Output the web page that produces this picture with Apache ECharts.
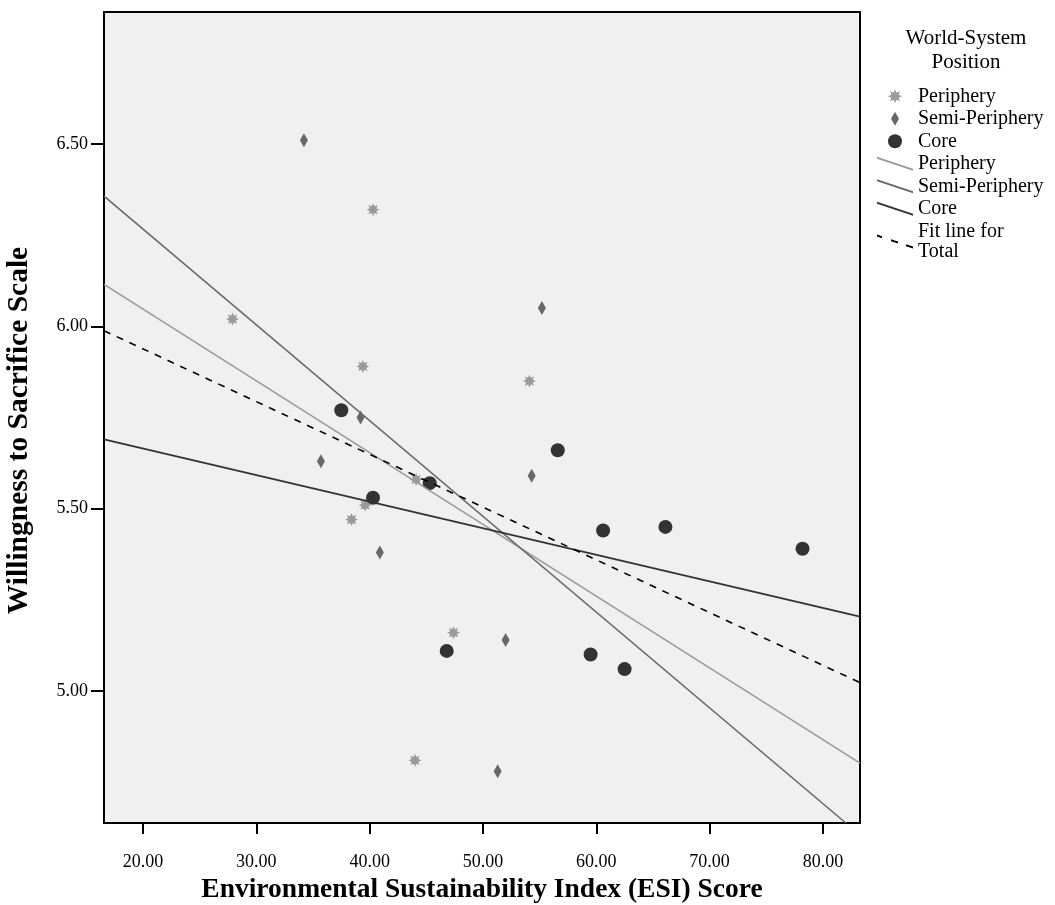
<!DOCTYPE html>
<html>
<head>
<meta charset="utf-8">
<script src="https://cdn.jsdelivr.net/npm/echarts@6/dist/echarts.min.js"></script>
<style>
  html, body { margin: 0; padding: 0; background: #ffffff; }
  #chart { width: 1055px; height: 905px; }
</style>
</head>
<body>
<div id="chart"></div>
<script>
// ESI score (x) vs. willingness-to-sacrifice scale (y), grouped by world-system position
const peripheryPoints = [
  [27.9, 6.02], [40.3, 6.32], [39.4, 5.89], [54.1, 5.85], [44.1, 5.58],
  [39.6, 5.51], [38.4, 5.47], [47.4, 5.16], [44.0, 4.81]
];
const semiPeripheryPoints = [
  [34.2, 6.51], [55.2, 6.05], [39.2, 5.75], [35.7, 5.63], [54.3, 5.59],
  [40.9, 5.38], [52.0, 5.14], [51.3, 4.78]
];
const corePoints = [
  [37.5, 5.77], [40.3, 5.53], [45.3, 5.57], [56.6, 5.66], [60.6, 5.44],
  [66.1, 5.45], [78.2, 5.39], [46.8, 5.11], [59.5, 5.10], [62.5, 5.06]
];

// Fit lines (end points across the plotted range)
const peripheryFit = [[16.56, 6.115], [83.27, 4.802]];
const semiPeripheryFit = [[16.56, 6.357], [82.02, 4.638]];
const coreFit = [[16.56, 5.690], [83.27, 5.204]];
const totalFit = [[16.56, 5.988], [83.27, 5.023]];

// Axis ranges and tick labels
const xRange = [16.56, 83.27];
const yRange = [4.638, 6.862];
const xTicks = [20, 30, 40, 50, 60, 70, 80];
const yTicks = [5.0, 5.5, 6.0, 6.5];

const legendLabels = {
  'Periphery': 'Periphery',
  'Semi-Periphery': 'Semi-Periphery',
  'Core': 'Core',
  'Periphery fit': 'Periphery',
  'Semi-Periphery fit': 'Semi-Periphery',
  'Core fit': 'Core',
  'Total fit': 'Fit line for\nTotal'
};

const SERIF = "'Liberation Serif', 'Times New Roman', serif";

// Eight-pointed burst used for the periphery marker
function starPath() {
  const pts = [];
  const n = 8, R = 10, r = 5.6;
  for (let i = 0; i < n * 2; i++) {
    const a = -Math.PI / 2 + i * Math.PI / n;
    const rad = i % 2 === 0 ? R : r;
    pts.push((10 + rad * Math.cos(a)).toFixed(2) + ',' + (10 + rad * Math.sin(a)).toFixed(2));
  }
  return 'path://M' + pts.join(' L') + ' Z';
}
const STAR = starPath();
const DIAMOND = 'path://M4,0 L8,7 L4,14 L0,7 Z';
const SLANT = 'path://M0,0 L36,12 L36,14 L0,2 Z';
function dashedSlant() {
  const segs = [[0, 5], [14, 21], [29, 36]];
  let p = '';
  segs.forEach(([a, b]) => {
    const ya = a * 12 / 36, yb = b * 12 / 36;
    p += 'M' + a + ',' + ya.toFixed(2) + ' L' + b + ',' + yb.toFixed(2) +
         ' L' + b + ',' + (yb + 2).toFixed(2) + ' L' + a + ',' + (ya + 2).toFixed(2) + ' Z ';
  });
  return 'path://' + p.trim();
}
const DASHED_SLANT = dashedSlant();

const C_PERI = '#9a9a9a';
const C_SEMI = '#686868';
const C_CORE = '#333333';

const chart = echarts.init(document.getElementById('chart'), null, { renderer: 'canvas' });

chart.setOption({
  backgroundColor: '#ffffff',
  animation: false,
  grid: {
    left: 104, top: 12, width: 756, height: 811,
    containLabel: false, outerBoundsMode: 'none',
    show: true, backgroundColor: '#f0f0f0', borderColor: '#000000', borderWidth: 2
  },
  xAxis: {
    type: 'value',
    min: xRange[0], max: xRange[1],
    name: 'Environmental Sustainability Index (ESI) Score',
    nameLocation: 'middle', nameGap: 51,
    nameTextStyle: { fontFamily: SERIF, fontWeight: 'bold', fontSize: 27.5, color: '#000' },
    axisLine: { show: false },
    splitLine: { show: false },
    axisTick: { show: true, inside: false, length: 11, customValues: xTicks,
      lineStyle: { color: '#000', width: 2 } },
    axisLabel: { customValues: xTicks, margin: 30, fontFamily: SERIF, fontSize: 18, color: '#000',
      formatter: v => Number(v).toFixed(2) }
  },
  yAxis: {
    type: 'value',
    min: yRange[0], max: yRange[1],
    name: 'Willingness to Sacrifice Scale',
    nameLocation: 'middle', nameGap: 70, nameRotate: 90,
    nameTextStyle: { fontFamily: SERIF, fontWeight: 'bold', fontSize: 29.5, color: '#000',
      padding: [0, 26, 0, 0] },
    axisLine: { show: false },
    splitLine: { show: false },
    axisTick: { show: true, inside: false, length: 13, customValues: yTicks,
      lineStyle: { color: '#000', width: 2 } },
    axisLabel: { customValues: yTicks, margin: 16, fontFamily: SERIF, fontSize: 18, color: '#000',
      formatter: v => Number(v).toFixed(2) }
  },
  legend: {
    orient: 'vertical',
    left: 877, top: 86, padding: 0,
    itemWidth: 36, itemHeight: 14, itemGap: 2,
    selectedMode: false,
    textStyle: { fontFamily: SERIF, fontSize: 20, color: '#000', lineHeight: 20.5 },
    formatter: name => legendLabels[name],
    data: [
      { name: 'Periphery', icon: STAR, itemStyle: { color: C_PERI, borderWidth: 0 } },
      { name: 'Semi-Periphery', icon: DIAMOND, itemStyle: { color: C_SEMI, borderWidth: 0 } },
      { name: 'Core', icon: 'circle', itemStyle: { color: C_CORE, borderWidth: 0 } },
      { name: 'Periphery fit', icon: SLANT, itemStyle: { color: C_PERI, borderWidth: 0 } },
      { name: 'Semi-Periphery fit', icon: SLANT, itemStyle: { color: C_SEMI, borderWidth: 0 } },
      { name: 'Core fit', icon: SLANT, itemStyle: { color: C_CORE, borderWidth: 0 } },
      { name: 'Total fit', icon: DASHED_SLANT, itemStyle: { color: '#000', borderWidth: 0 } }
    ]
  },
  graphic: [{
    type: 'text', x: 966, y: 26,
    style: { text: 'World-System\nPosition', textAlign: 'center', fill: '#000',
      font: '21px ' + SERIF, lineHeight: 24 }
  }],
  series: [
    { name: 'Periphery', type: 'scatter', data: peripheryPoints, symbol: STAR, symbolSize: 13,
      itemStyle: { color: C_PERI, opacity: 1 }, z: 2 },
    { name: 'Semi-Periphery', type: 'scatter', data: semiPeripheryPoints, symbol: DIAMOND, symbolSize: [8, 14],
      itemStyle: { color: C_SEMI, opacity: 1 }, z: 2 },
    { name: 'Core', type: 'scatter', data: corePoints, symbol: 'circle', symbolSize: 14,
      itemStyle: { color: C_CORE, opacity: 1 }, z: 2 },
    { name: 'Periphery fit', type: 'line', data: peripheryFit, showSymbol: false, symbol: 'none',
      lineStyle: { color: C_PERI, width: 1.6 }, itemStyle: { color: C_PERI }, z: 3 },
    { name: 'Semi-Periphery fit', type: 'line', data: semiPeripheryFit, showSymbol: false, symbol: 'none',
      lineStyle: { color: C_SEMI, width: 1.6 }, itemStyle: { color: C_SEMI }, z: 3 },
    { name: 'Core fit', type: 'line', data: coreFit, showSymbol: false, symbol: 'none',
      lineStyle: { color: C_CORE, width: 1.6 }, itemStyle: { color: C_CORE }, z: 3 },
    { name: 'Total fit', type: 'line', data: totalFit, showSymbol: false, symbol: 'none',
      lineStyle: { color: '#000', width: 1.6, type: [7, 7] }, itemStyle: { color: '#000' }, z: 3 }
  ]
});
</script>
</body>
</html>
